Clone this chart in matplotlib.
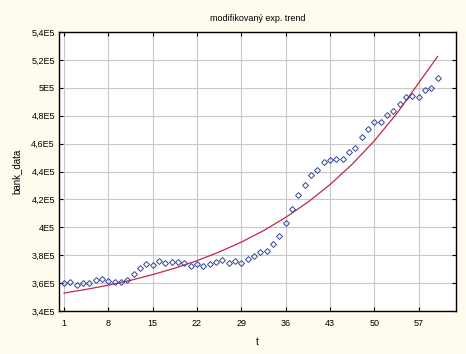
import numpy as np
import matplotlib
matplotlib.use("Agg")
import matplotlib.pyplot as plt

t = list(range(1, 61))
bank_data = [360000, 360800, 358600, 360000, 360000, 362000, 362700, 361300, 360600, 360600,
             362000, 366700, 370800, 373700, 373200, 375600, 374200, 375100, 374900, 374200,
             372300, 373700, 372000, 373900, 375100, 376300, 374600, 375600, 374600, 377500,
             379400, 382100, 383000, 387800, 394000, 403300, 412900, 422900, 430100, 437700,
             441300, 446600, 448200, 448700, 449200, 454000, 456800, 464700, 470200, 475700,
             475700, 480500, 483100, 488600, 493400, 494100, 493400, 498200, 500100, 506800]

# modified exponential trend
trend_t = [1, 4.5, 8, 11.5, 15, 18.5, 22, 25.5, 29, 32.5, 36, 39.5, 43, 46.5, 50, 53.5, 57, 60]
trend_val = [352900, 355500, 358500, 362000, 366100, 370700, 376100, 382300, 389400,
             397600, 407100, 418000, 430600, 445200, 462000, 481300, 503400, 522500]

xticks = [1, 8, 15, 22, 29, 36, 43, 50, 57]
yticks = [340000, 360000, 380000, 400000, 420000, 440000, 460000, 480000, 500000, 520000, 540000]
ylabels = ["3,4E5", "3,6E5", "3,8E5", "4E5", "4,2E5", "4,4E5", "4,6E5", "4,8E5", "5E5", "5,2E5", "5,4E5"]

plt.rcParams['font.family'] = ['Liberation Sans', 'DejaVu Sans']

bg = '#fffbee'
fig = plt.figure(figsize=(4.66, 3.54), dpi=100, facecolor=bg)
W, H = 466.0, 354.0
ax = fig.add_axes([59 / W, (H - 311) / H, (456 - 59) / W, (311 - 32) / H])
ax.set_facecolor('white')

ax.plot(trend_t, trend_val, color='#c0284a', lw=0.9, zorder=3)
ax.plot(t, bank_data, linestyle='none', marker='D', markersize=3.0,
        markerfacecolor='none', markeredgecolor='#34449a', markeredgewidth=0.7, zorder=4)

ax.set_xlim(0.2, 62.9)
ax.set_ylim(340000, 540000)
ax.set_xticks(xticks)
ax.set_xticklabels([str(v) for v in xticks])
ax.set_yticks(yticks)
ax.set_yticklabels(ylabels)

ax.grid(True, color='#c8c8c8', lw=0.8)
ax.set_axisbelow(True)
ax.tick_params(direction='in', length=3, width=0.8, labelsize=6.5, top=True, right=True,
               colors='black')
ax.tick_params(axis='x', pad=6)
ax.tick_params(axis='y', pad=3)
for s in ax.spines.values():
    s.set_linewidth(1.0)
    s.set_color('black')

ax.set_title('modifikovaný exp. trend', fontsize=6.5, pad=8)
ax.set_xlabel('t', fontsize=7, labelpad=6)
ax.set_ylabel('bank_data', fontsize=7, labelpad=7)

fig.savefig('out.png', dpi=100, facecolor=bg)
